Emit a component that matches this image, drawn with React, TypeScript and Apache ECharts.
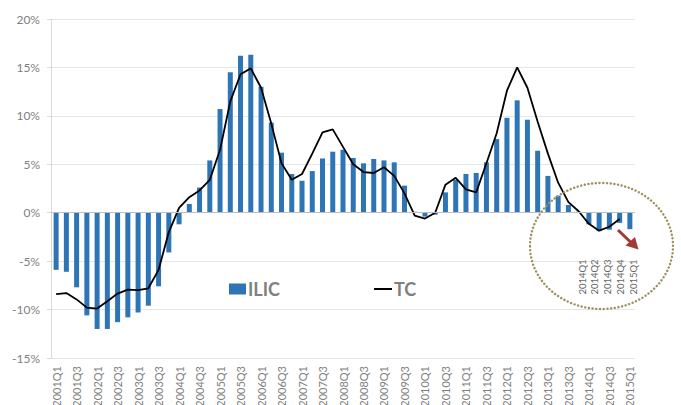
import React, { useEffect, useRef } from "react";
import * as echarts from "echarts";

const categories = [
  "2001Q1", "2001Q2", "2001Q3", "2001Q4",
  "2002Q1", "2002Q2", "2002Q3", "2002Q4",
  "2003Q1", "2003Q2", "2003Q3", "2003Q4",
  "2004Q1", "2004Q2", "2004Q3", "2004Q4",
  "2005Q1", "2005Q2", "2005Q3", "2005Q4",
  "2006Q1", "2006Q2", "2006Q3", "2006Q4",
  "2007Q1", "2007Q2", "2007Q3", "2007Q4",
  "2008Q1", "2008Q2", "2008Q3", "2008Q4",
  "2009Q1", "2009Q2", "2009Q3", "2009Q4",
  "2010Q1", "2010Q2", "2010Q3", "2010Q4",
  "2011Q1", "2011Q2", "2011Q3", "2011Q4",
  "2012Q1", "2012Q2", "2012Q3", "2012Q4",
  "2013Q1", "2013Q2", "2013Q3", "2013Q4",
  "2014Q1", "2014Q2", "2014Q3", "2014Q4",
  "2015Q1",
];

// ILIC (bars), percent
const ilic = [
  -5.9, -6.1, -7.7, -10.6,
  -12.0, -12.0, -11.3, -10.8,
  -10.3, -9.6, -7.6, -4.1,
  -1.2, 0.9, 2.6, 5.4,
  10.7, 14.5, 16.2, 16.3,
  13.0, 9.3, 6.2, 4.0,
  3.3, 4.3, 5.6, 6.3,
  6.5, 5.65, 5.1, 5.55,
  5.4, 5.2, 2.8, 0.1,
  -0.4, -0.2, 2.1, 3.4,
  4.0, 4.1, 5.2, 7.6,
  9.8, 11.6, 9.6, 6.4,
  3.8, 1.75, 0.8, 0.1,
  -1.2, -1.9, -1.75, -1.05,
  -1.7,
];

// TC (line), percent
const tc = [
  -8.4, -8.3, -8.95, -9.8,
  -9.9, -9.15, -8.35, -7.95,
  -8.0, -7.8, -5.9, -2.0,
  0.5, 1.6, 2.3, 3.4,
  6.5, 11.5, 14.3, 14.9,
  12.9, 9.2, 5.1, 3.4,
  4.0, 6.1, 8.3, 8.6,
  6.8, 5.0, 4.2, 4.1,
  4.7, 3.8, 2.0, -0.3,
  -0.6, 0.0, 2.9, 3.6,
  2.4, 2.1, 5.1, 8.2,
  12.6, 15.0, 12.9, 9.4,
  6.1, 3.1, 1.1, 0.15,
  -1.15, -1.85, -1.45, -0.65,
  null,
];

const insetLabels = ["2014Q1", "2014Q2", "2014Q3", "2014Q4", "2015Q1"];
const insetX = [582, 594, 607, 620, 633];

const FONT = "Lato, 'Open Sans', sans-serif";
const GREY = "#7f7f7f";

export default function App() {
  const ref = useRef<HTMLDivElement>(null);
  useEffect(() => {
    const chart = echarts.init(ref.current!, null, { renderer: "svg" });
    chart.setOption({
      animation: false,
      backgroundColor: "#ffffff",
      textStyle: { fontFamily: FONT },
      grid: { left: 51, right: 46, top: 19, bottom: 47, containLabel: false, outerBoundsMode: "none" },
      legend: [
        {
          data: ["ILIC"],
          left: 224,
          top: 275,
          icon: "rect",
          itemWidth: 17,
          itemHeight: 11,
          textStyle: { fontSize: 18, fontWeight: "bold", color: "#808080", fontFamily: FONT, padding: [0, 0, 0, -3] },
        },
        {
          data: ["TC"],
          left: 369,
          top: 275,
          icon: "rect",
          itemWidth: 18,
          itemHeight: 2,
          itemStyle: { color: "#000000" },
          textStyle: { fontSize: 18, fontWeight: "bold", color: "#808080", fontFamily: FONT, padding: [0, 0, 0, -3] },
        },
      ],
      xAxis: {
        type: "category",
        data: categories,
        boundaryGap: true,
        axisLine: { show: false, onZero: false },
        axisTick: { show: false },
        axisLabel: {
          interval: 1,
          rotate: 90,
          fontSize: 11,
          color: GREY,
          margin: 8,
          fontFamily: FONT,
        },
      },
      yAxis: {
        type: "value",
        min: -15,
        max: 20,
        interval: 5,
        axisLine: { show: true, lineStyle: { color: "#d9d9d9" } },
        axisTick: { show: true, length: 4, lineStyle: { color: "#d9d9d9" } },
        axisLabel: { formatter: "{value}%", fontSize: 12, color: GREY, margin: 11, fontFamily: FONT },
        splitLine: { show: true, lineStyle: { color: "#e6e6e6", width: 1 } },
      },
      series: [
        {
          name: "ILIC",
          type: "bar",
          data: ilic,
          barWidth: 5,
          itemStyle: { color: "#2E75B6" },
          markLine: {
            silent: true,
            symbol: "none",
            label: { show: false },
            lineStyle: { color: "#bfbfbf", width: 1, type: "solid" },
            data: [{ yAxis: 0 }],
          },
        },
        {
          name: "TC",
          type: "line",
          data: tc,
          showSymbol: false,
          symbol: "none",
          connectNulls: false,
          lineStyle: { color: "#000000", width: 1.8 },
          itemStyle: { color: "#000000" },
          z: 3,
        },
      ],
      graphic: [
        {
          type: "ellipse",
          shape: { cx: 601.5, cy: 246, rx: 71.5, ry: 63 },
          style: { fill: "none", stroke: "#9D9061", lineWidth: 2.4, lineDash: [0.1, 3.6], lineCap: "round" },
          z: 10,
        },
        {
          type: "line",
          shape: { x1: 618, y1: 230, x2: 632, y2: 243.5 },
          style: { stroke: "#A23A35", lineWidth: 3 },
          z: 10,
        },
        {
          type: "polygon",
          shape: { points: [[638.5, 249.5], [625.5, 245.5], [635, 237]] },
          style: { fill: "#A23A35" },
          z: 10,
        },
        ...insetLabels.map((t, i) => ({
          type: "text",
          x: insetX[i],
          y: 277,
          rotation: Math.PI / 2,
          style: {
            text: t,
            align: "center",
            verticalAlign: "middle",
            fontSize: 9.5,
            fill: "#666666",
            fontFamily: FONT,
          },
          z: 10,
        })),
      ],
    });
    return () => chart.dispose();
  }, []);
  return (
    <div
      ref={ref}
      style={{ position: "fixed", left: 0, top: 0, width: 681, height: 405, background: "#fff" }}
    />
  );
}
